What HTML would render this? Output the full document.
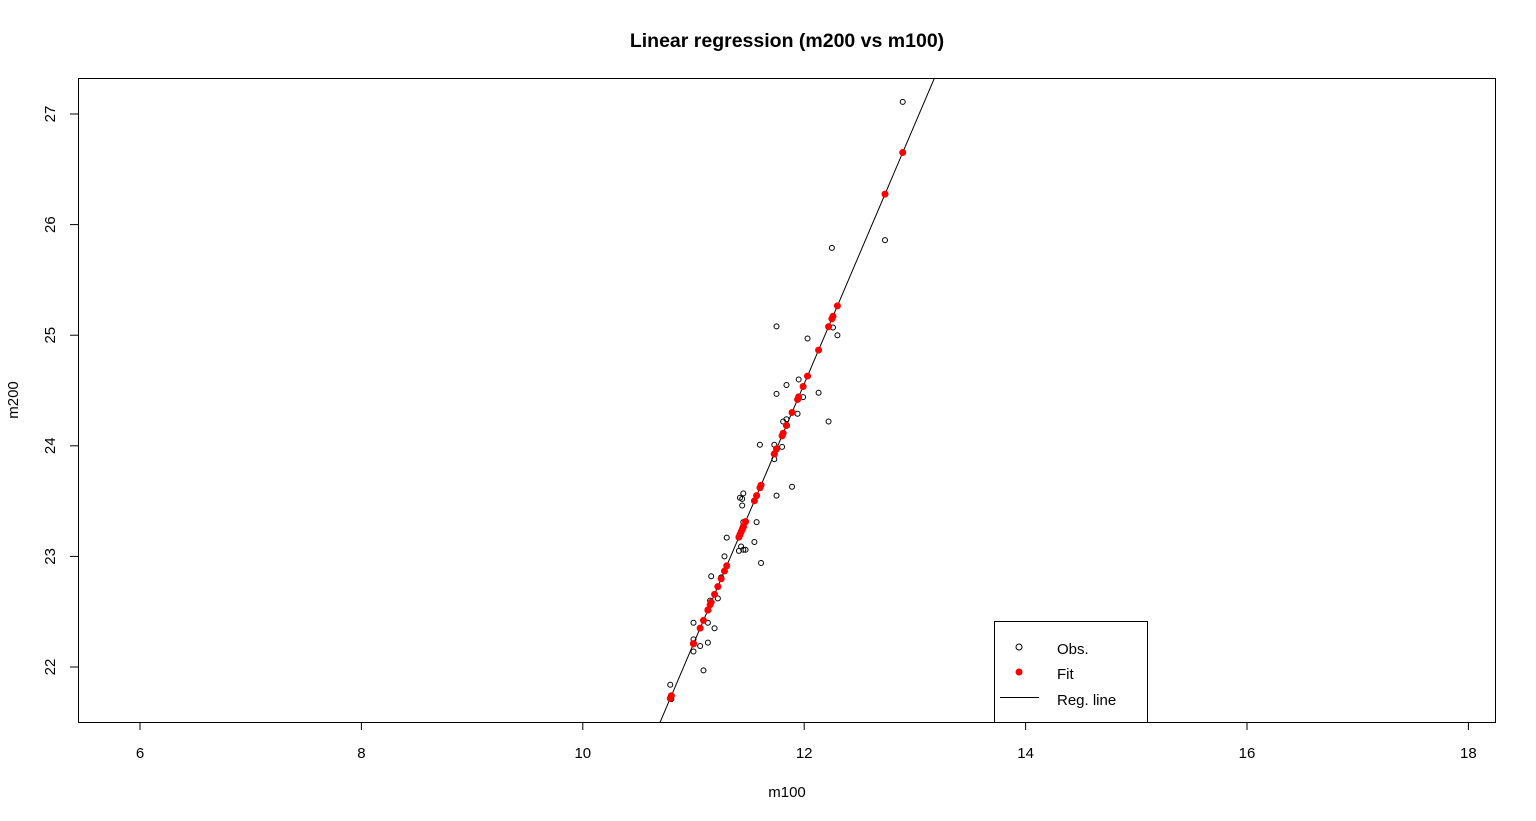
<!DOCTYPE html>
<html><head><meta charset="utf-8"><style>
html,body{margin:0;padding:0;background:#fff;width:1536px;height:821px;overflow:hidden}
svg{display:block;font-family:"Liberation Sans",Arial,sans-serif}
</style></head><body>
<svg id="chart" width="1536" height="821" viewBox="0 0 1536 821">
<rect x="0" y="0" width="1536" height="821" fill="#fff"/>
<text x="787" y="47" text-anchor="middle" font-size="19.5" font-weight="bold">Linear regression (m200 vs m100)</text>
<text x="787" y="797" text-anchor="middle" font-size="15">m100</text>
<text transform="translate(18,400) rotate(-90)" text-anchor="middle" font-size="15">m200</text>
<g id="axes"></g>
<defs><clipPath id="clip"><rect x="78" y="78" width="1417" height="644"/></clipPath></defs>
<g id="plot" clip-path="url(#clip)"></g>
<rect x="78.5" y="78.5" width="1417" height="644" fill="none" stroke="#000"/>
<g>
<rect x="994.5" y="621.5" width="153" height="101" fill="#fff" stroke="#000"/>
<circle cx="1019" cy="647" r="3" fill="none" stroke="#000"/>
<text x="1057" y="654" font-size="15">Obs.</text>
<circle cx="1019" cy="672" r="3.5" fill="#f00"/>
<text x="1057" y="679" font-size="15">Fit</text>
<line x1="1000" y1="697.5" x2="1039" y2="697.5" stroke="#000"/>
<text x="1057" y="705" font-size="15">Reg. line</text>
</g>
</svg>
<script>
const xTicks=[6,8,10,12,14,16,18];
const yTicks=[22,23,24,25,26,27];
const obsX=[11.89,11.75,11.45,11.42,11.44,11.44,11.57,11.45,11.30,11.55,11.43,11.41,11.45,11.47,11.61,11.28,11.16,11.25,11.22,11.15,11.00,11.13,11.19,11.00,11.06,11.13,11.00,11.09,10.79,10.80,11.75,12.03,12.30,12.26,11.95,11.84,11.75,12.13,11.99,11.94,12.22,11.81,11.84,11.60,11.73,11.80,11.73,12.89,12.73,12.25];
const obsY=[23.63,23.55,23.57,23.53,23.52,23.46,23.31,23.31,23.17,23.13,23.09,23.05,23.06,23.06,22.94,23.00,22.82,22.81,22.62,22.60,22.40,22.40,22.35,22.25,22.19,22.22,22.14,21.97,21.84,21.71,25.08,24.97,25.00,25.07,24.60,24.55,24.47,24.48,24.44,24.29,24.22,24.22,24.24,24.01,24.01,23.99,23.88,27.11,25.86,25.79];
const intercept=-3.64;
const slope=2.35;
const NS="http://www.w3.org/2000/svg";
function sx(v){return 140+(v-6)*110.7;}
function sy(v){return 667-(v-22)*110.6;}
function mk(tag,attrs,parent){const e=document.createElementNS(NS,tag);for(const k in attrs)e.setAttribute(k,attrs[k]);parent.appendChild(e);return e;}
const axes=document.getElementById('axes');
const plot=document.getElementById('plot');
xTicks.forEach(t=>{
 const l=mk('line',{x1:sx(t),x2:sx(t),y1:722,y2:730,stroke:'#000'},axes);
 
 
 const tx=mk('text',{x:sx(t),y:758,'text-anchor':'middle','font-size':15},axes);
 tx.textContent=t;
 
 
});
yTicks.forEach(t=>{
 const l=mk('line',{x1:70,x2:78,y1:sy(t),y2:sy(t),stroke:'#000'},axes);
 
 
 const tx=mk('text',{transform:`translate(55,${sy(t)}) rotate(-90)`,'text-anchor':'middle','font-size':15},axes);
 tx.textContent=t;
 
 
});
const x0=10,x1=14;
const rl=mk('line',{x1:sx(x0),y1:sy(intercept+slope*x0),x2:sx(x1),y2:sy(intercept+slope*x1),stroke:'#000','stroke-width':1},plot);


obsX.forEach((x,i)=>{
 const c=mk('circle',{cx:sx(x),cy:sy(obsY[i]),r:2.5,fill:'none',stroke:'#000','stroke-width':1},plot);
 
 
});
obsX.forEach(x=>{
 const c=mk('circle',{cx:sx(x),cy:sy(intercept+slope*x),r:3.5,fill:'#f00'},plot);
 
 
});
</script>
</body></html>
